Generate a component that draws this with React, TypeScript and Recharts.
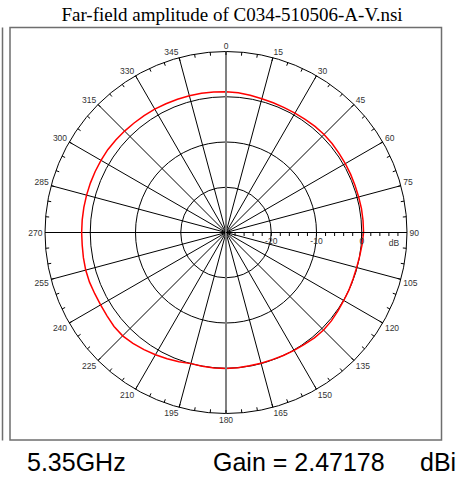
import { RadarChart, Radar, PolarGrid, PolarAngleAxis, PolarRadiusAxis } from 'recharts';

// ---------------------------------------------------------------------------
// Data: far-field amplitude, one sample every 5 degrees (clockwise from 0)
// ---------------------------------------------------------------------------

const ANGLES_DEG = [
  0, 5, 10, 15, 20, 25, 30, 35, 40, 45, 50, 55,
  60, 65, 70, 75, 80, 85, 90, 95, 100, 105, 110, 115,
  120, 125, 130, 135, 140, 145, 150, 155, 160, 165, 170, 175,
  180, 185, 190, 195, 200, 205, 210, 215, 220, 225, 230, 235,
  240, 245, 250, 255, 260, 265, 270, 275, 280, 285, 290, 295,
  300, 305, 310, 315, 320, 325, 330, 335, 340, 345, 350, 355,
];

const GAIN_DB = [
  1.1, 1.0, 0.8, 0.6, 0.5, 0.45, 0.45, 0.5, 0.6, 0.65, 0.6, 0.5,
  0.45, 0.4, 0.35, 0.35, 0.4, 0.4, 0.4, 0.2, 0.0, -0.1, -0.1, 0.0,
  0.05, 0.2, 0.4, 0.5, 0.4, 0.2, 0.1, 0.0, -0.1, -0.1, -0.1, 0.0,
  0.05, 0.05, 0.0, 0.0, 0.4, 0.8, 1.2, 1.6, 2.0, 2.3, 2.3, 2.1,
  2.0, 2.0, 2.1, 2.1, 2.0, 1.9, 1.9, 1.9, 1.9, 1.9, 1.9, 1.9,
  1.9, 1.9, 1.8, 1.7, 1.6, 1.55, 1.5, 1.4, 1.35, 1.3, 1.25, 1.15,
];

const SPOKE_DEG = [0, 15, 30, 45, 60, 75, 90, 105, 120, 135, 150, 165,
  180, 195, 210, 225, 240, 255, 270, 285, 300, 315, 330, 345];

const RING_DB = [-20, -10, 0, 10];
const RADIUS_TICKS = [-30, -28, -26, -24, -22, -20, -18, -16, -14, -12, -10,
  -8, -6, -4, -2, 0, 2, 4, 6, 8, 10];
const RADIUS_LABELS = [-20, -10, 0];
const DB_DOMAIN: [number, number] = [-30, 10];

const TITLE = 'Far-field amplitude of C034-510506-A-V.nsi';
const FREQ_TEXT = '5.35GHz';
const GAIN_TEXT = 'Gain = 2.47178';
const UNIT_TEXT = 'dBi';

// ---------------------------------------------------------------------------
// Layout
// ---------------------------------------------------------------------------

const W = 458;
const H = 481;
const CX = 226;
const CY = 232.5;
const R = 181;
const SANS = 'Liberation Sans, Arial, sans-serif';

const dbToRadius = (db: number) => ((db - DB_DOMAIN[0]) / (DB_DOMAIN[1] - DB_DOMAIN[0])) * R;

const data = ANGLES_DEG.map((deg, i) => ({ deg, gain: GAIN_DB[i] }));

// compass degrees (clockwise from top) -> recharts degrees (ccw from east)
const spokeAngles = SPOKE_DEG.map((d) => 90 - d);
const ringRadii = RING_DB.map(dbToRadius);

// outer-circle tick: small inward mark every 5 deg, label every 15 deg,
// and the grey 0-180 reference line
function AngleTick(props: any) {
  const { x, y, payload } = props;
  const dx = x - CX;
  const dy = y - CY;
  const len = Math.hypot(dx, dy) || 1;
  const ux = dx / len;
  const uy = dy / len;
  const deg = Number(payload.value);

  const ox = CX + ux * R;
  const oy = CY + uy * R;

  let label = null;
  if (deg % 15 === 0) {
    const lr = R + 2.5;
    const lx = CX + ux * lr;
    const ly = CY + uy * lr;
    const anchor = ux > 0.2 ? 'start' : ux < -0.2 ? 'end' : 'middle';
    const by = uy < -0.2 ? ly : uy > 0.2 ? ly + 6.5 : ly + 3;
    label = (
      <text x={lx} y={by} textAnchor={anchor} fontSize={8.5} fontFamily={SANS} fill="#333">
        {deg}
      </text>
    );
  }

  return (
    <g>
      {(deg === 0 || deg === 180) && (
        <line x1={ox} y1={oy} x2={CX} y2={CY} stroke="#808080" strokeWidth={2} />
      )}
      <line x1={ox} y1={oy} x2={CX + ux * (R - 3.5)} y2={CY + uy * (R - 3.5)} stroke="#000" strokeWidth={1} />
      {label}
    </g>
  );
}

// radius axis along 90 deg: 2 dB marks and ring labels
function RadiusTick(props: any) {
  const { x, y, payload } = props;
  const v = Number(payload.value);
  if (v === DB_DOMAIN[0] || v === DB_DOMAIN[1]) return <g />;
  return (
    <g>
      <line x1={x} y1={y - 0.5} x2={x} y2={y + 3.5} stroke="#000" strokeWidth={1} />
      {RADIUS_LABELS.includes(v) && (
        <text x={x} y={y + 11} textAnchor="middle" fontSize={8.5} fontFamily={SANS} fill="#333">
          {v}
        </text>
      )}
    </g>
  );
}

export default function App() {
  return (
    <div style={{ position: 'absolute', left: 0, top: 0, width: W, height: H, background: '#fff' }}>
      <svg width={W} height={H} style={{ position: 'absolute', left: 0, top: 0 }}>
        <text x={232} y={21} textAnchor="middle" fontSize={19} fontFamily="Liberation Serif, Times New Roman, serif" fill="#000">
          {TITLE}
        </text>
        <line x1={2.5} y1={27.5} x2={2.5} y2={440.5} stroke="#6e6e6e" strokeWidth={1.5} />
        <rect x={10} y={27.5} width={431.5} height={412.5} fill="none" stroke="#6e6e6e" strokeWidth={1.5} />
        <text x={394} y={246} textAnchor="middle" fontSize={8.5} fontFamily={SANS} fill="#333">dB</text>
        <text x={27} y={471} fontSize={25} fontFamily={SANS} fill="#000">{FREQ_TEXT}</text>
        <text x={213} y={471} fontSize={25} fontFamily={SANS} fill="#000">{GAIN_TEXT}</text>
        <text x={420} y={471} fontSize={25} fontFamily={SANS} fill="#000">{UNIT_TEXT}</text>
      </svg>
      <div style={{ position: 'absolute', left: 0, top: 0 }}>
        <RadarChart
          width={W}
          height={H}
          data={data}
          cx={CX}
          cy={CY}
          innerRadius={0}
          outerRadius={R}
          startAngle={90}
          endAngle={-270}
          margin={{ top: 0, right: 0, bottom: 0, left: 0 }}
        >
          <PolarGrid
            gridType="circle"
            polarAngles={spokeAngles}
            polarRadius={ringRadii}
            stroke="#000"
            strokeWidth={1}
          />
          <PolarAngleAxis
            dataKey="deg"
            axisLine={false}
            tickLine={false}
            tickSize={0}
            tick={(p: any) => <AngleTick {...p} />}
          />
          <PolarRadiusAxis
            angle={0}
            type="number"
            domain={DB_DOMAIN}
            ticks={RADIUS_TICKS as any}
            axisLine={{ stroke: '#000', strokeWidth: 1 }}
            tickLine={false}
            tick={(p: any) => <RadiusTick {...p} />}
          />
          <Radar
            dataKey="gain"
            stroke="#ff0000"
            strokeWidth={1.5}
            fill="none"
            fillOpacity={0}
            dot={false}
            isAnimationActive={false}
          />
        </RadarChart>
      </div>
    </div>
  );
}
